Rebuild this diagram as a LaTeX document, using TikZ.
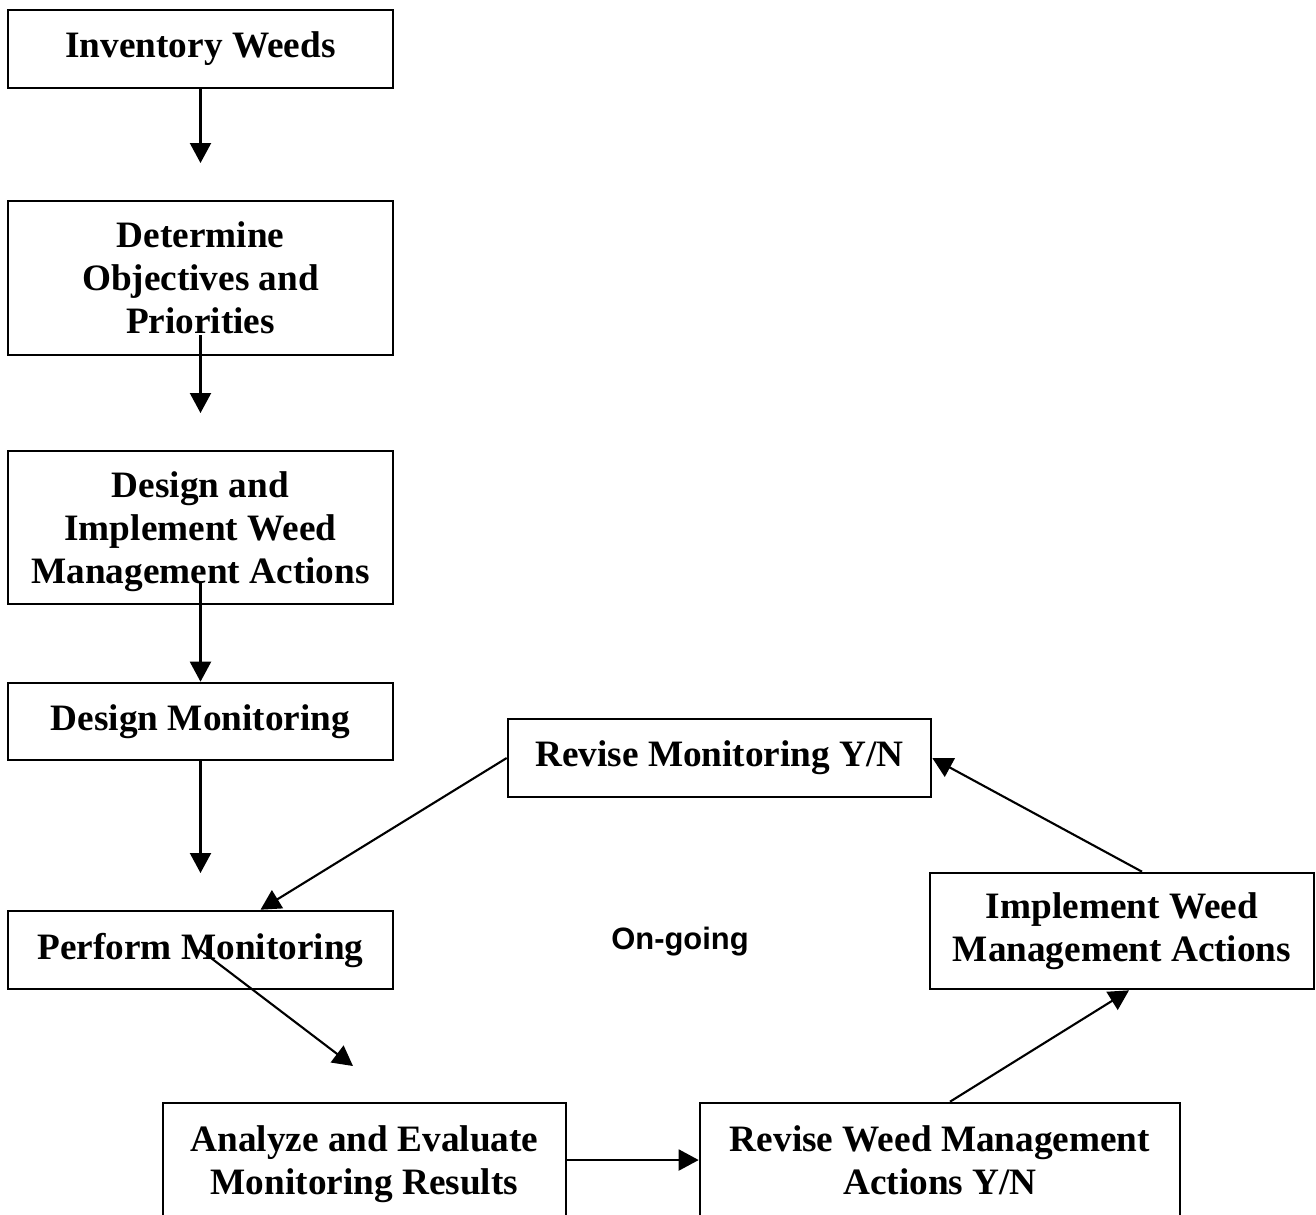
\documentclass[tikz,border=0pt]{standalone}
\usepackage{fontspec}
\setmainfont{Liberation Serif}
\newfontfamily\ongoingfont{Liberation Sans}
\usepackage{tikz}
\usetikzlibrary{arrows.meta}
\definecolor{flowink}{gray}{0}
\tikzset{
  task/.style={draw=flowink, line width=0.75pt, inner sep=0pt, align=center,
    font=\fontsize{10.6}{12.2}\selectfont\bfseries},
  flow/.style={flowink, line width=0.6pt, -{Triangle[length=0.2cm,width=0.21cm]}}
}

\begin{document}
\begin{tikzpicture}
	\clip (0,0) rectangle (13.16,-12.14);
	
	% left column
	\node[task, minimum width=3.85cm, minimum height=0.78cm] (inv) at (2.005,-0.49) {Inventory Weeds};
	\node[task, minimum width=3.85cm, minimum height=1.54cm] (det) at (2.005,-2.78) {Determine\\Objectives and\\Priorities};
	\node[task, minimum width=3.85cm, minimum height=1.53cm, text depth=0pt] (des) at (2.005,-5.275) {Design and\\Implement Weed\\Management Actions};
	\node[task, minimum width=3.85cm, minimum height=0.77cm] (dmon) at (2.005,-7.215) {Design Monitoring};
	\node[task, minimum width=3.85cm, minimum height=0.78cm] (perf) at (2.005,-9.50) {Perform Monitoring};
	
	% the cycle
	\node[task, minimum width=4.03cm, minimum height=1.14cm, text depth=0pt] (ana) at (3.645,-11.60) {Analyze and Evaluate\\Monitoring Results};
	\node[task, minimum width=4.80cm, minimum height=1.14cm] (rwm) at (9.40,-11.60) {Revise Weed Management\\Actions Y/N};
	\node[task, minimum width=3.84cm, minimum height=1.16cm] (impl) at (11.22,-9.31) {Implement Weed\\Management Actions};
	\node[task, minimum width=4.23cm, minimum height=0.78cm] (rmon) at (7.195,-7.58) {Revise Monitoring Y/N};
	\node[font={\ongoingfont\fontsize{8.8}{10}\selectfont\bfseries}] (ongoing) at (6.80,-9.42) {On-going};
	
	% loose arrow ends
	\coordinate (invend) at (2.005,-1.63);
	\coordinate (detstart) at (2.005,-3.35);
	\coordinate (detend) at (2.005,-4.13);
	\coordinate (desstart) at (2.005,-5.83);
	\coordinate (dmonend) at (2.005,-8.73);
	\coordinate (perfend) at (3.53,-10.66);
	
	\draw[flow] (inv.south) -- (invend);
	\draw[flow] (detstart) -- (detend);
	\draw[flow] (desstart) -- (dmon.north);
	\draw[flow] (dmon.south) -- (dmonend);
	\draw[flow] (rmon.west) -- ([xshift=0.6cm]perf.north);
	\draw[flow] (perf.center) -- (perfend);
	\draw[flow] (ana.east) -- (rwm.west);
	\draw[flow] ([xshift=0.1cm]rwm.north) -- ([xshift=0.07cm]impl.south);
	\draw[flow] ([xshift=0.2cm]impl.north) -- (rmon.east);
\end{tikzpicture}
\end{document}
